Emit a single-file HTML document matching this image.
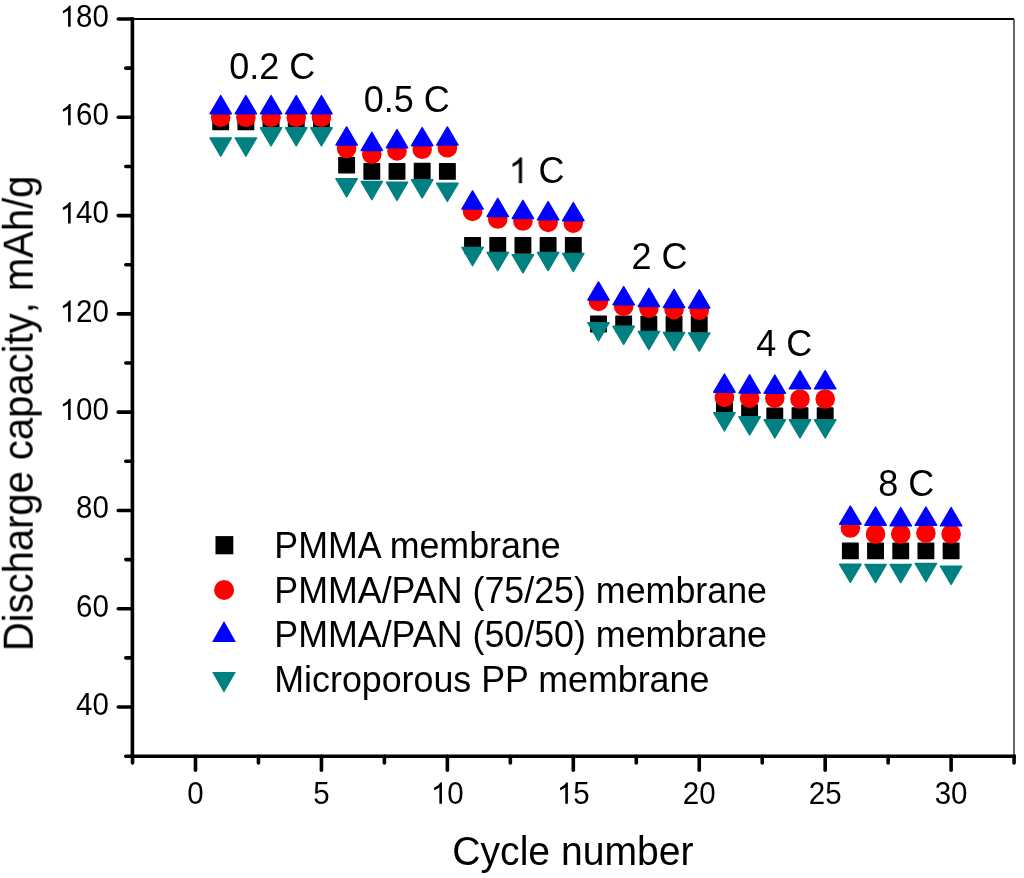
<!DOCTYPE html>
<html><head><meta charset="utf-8"><style>
html,body{margin:0;padding:0;background:#fff;}
body{width:1024px;height:878px;overflow:hidden;}
svg{display:block;}
text{font-family:"Liberation Sans",sans-serif;fill:#000;font-kerning:none;}
.leg text{font-kerning:normal;}
</style></head><body>
<svg width="1024" height="878" viewBox="0 0 1024 878">
<defs><filter id="g" x="0" y="0" width="1" height="1" color-interpolation-filters="sRGB"><feColorMatrix type="saturate" values="0"/></filter></defs>
<rect width="1024" height="878" fill="#fff"/>
<line x1="132.4" y1="19" x2="1014" y2="19" stroke="#000" stroke-width="2"/>
<line x1="1014" y1="19" x2="1014" y2="756.2" stroke="#555" stroke-width="1.8"/>
<g stroke="#000" stroke-width="3.6" stroke-linecap="round">
<line x1="132.4" y1="19" x2="132.4" y2="756.2" stroke-linecap="square"/>
<line x1="132.4" y1="756.2" x2="1014" y2="756.2" stroke-linecap="square"/>
<line x1="125.8" y1="756.2" x2="132.4" y2="756.2"/>
<line x1="118.3" y1="707.05" x2="132.4" y2="707.05"/>
<line x1="125.8" y1="657.91" x2="132.4" y2="657.91"/>
<line x1="118.3" y1="608.76" x2="132.4" y2="608.76"/>
<line x1="125.8" y1="559.61" x2="132.4" y2="559.61"/>
<line x1="118.3" y1="510.47" x2="132.4" y2="510.47"/>
<line x1="125.8" y1="461.32" x2="132.4" y2="461.32"/>
<line x1="118.3" y1="412.17" x2="132.4" y2="412.17"/>
<line x1="125.8" y1="363.03" x2="132.4" y2="363.03"/>
<line x1="118.3" y1="313.88" x2="132.4" y2="313.88"/>
<line x1="125.8" y1="264.73" x2="132.4" y2="264.73"/>
<line x1="118.3" y1="215.59" x2="132.4" y2="215.59"/>
<line x1="125.8" y1="166.44" x2="132.4" y2="166.44"/>
<line x1="118.3" y1="117.29" x2="132.4" y2="117.29"/>
<line x1="125.8" y1="68.15" x2="132.4" y2="68.15"/>
<line x1="118.3" y1="19" x2="132.4" y2="19"/>
<line x1="132.53" y1="756.2" x2="132.53" y2="763"/>
<line x1="195.5" y1="756.2" x2="195.5" y2="770.2"/>
<line x1="258.47" y1="756.2" x2="258.47" y2="763"/>
<line x1="321.44" y1="756.2" x2="321.44" y2="770.2"/>
<line x1="384.4" y1="756.2" x2="384.4" y2="763"/>
<line x1="447.37" y1="756.2" x2="447.37" y2="770.2"/>
<line x1="510.34" y1="756.2" x2="510.34" y2="763"/>
<line x1="573.31" y1="756.2" x2="573.31" y2="770.2"/>
<line x1="636.27" y1="756.2" x2="636.27" y2="763"/>
<line x1="699.24" y1="756.2" x2="699.24" y2="770.2"/>
<line x1="762.21" y1="756.2" x2="762.21" y2="763"/>
<line x1="825.17" y1="756.2" x2="825.17" y2="770.2"/>
<line x1="888.14" y1="756.2" x2="888.14" y2="763"/>
<line x1="951.11" y1="756.2" x2="951.11" y2="770.2"/>
<line x1="1014.08" y1="756.2" x2="1014.08" y2="763"/>
</g>
<g fill="#000" stroke="#000" stroke-width="1.4" stroke-linejoin="round"><rect x="212.94" y="114.1" width="15.5" height="15.5"/><rect x="238.12" y="114.1" width="15.5" height="15.5"/><rect x="263.31" y="114.1" width="15.5" height="15.5"/><rect x="288.5" y="114.1" width="15.5" height="15.5"/><rect x="313.69" y="114.1" width="15.5" height="15.5"/><rect x="338.87" y="157.4" width="15.5" height="15.5"/><rect x="364.06" y="163.65" width="15.5" height="15.5"/><rect x="389.25" y="163.65" width="15.5" height="15.5"/><rect x="414.43" y="163.35" width="15.5" height="15.5"/><rect x="439.62" y="163.65" width="15.5" height="15.5"/><rect x="464.81" y="237.6" width="15.5" height="15.5"/><rect x="489.99" y="237.6" width="15.5" height="15.5"/><rect x="515.18" y="237.6" width="15.5" height="15.5"/><rect x="540.37" y="237.6" width="15.5" height="15.5"/><rect x="565.56" y="237.6" width="15.5" height="15.5"/><rect x="590.74" y="316.25" width="15.5" height="15.5"/><rect x="615.93" y="316.25" width="15.5" height="15.5"/><rect x="641.12" y="316.45" width="15.5" height="15.5"/><rect x="666.3" y="316.45" width="15.5" height="15.5"/><rect x="691.49" y="316.45" width="15.5" height="15.5"/><rect x="716.68" y="396.75" width="15.5" height="15.5"/><rect x="741.86" y="404.95" width="15.5" height="15.5"/><rect x="767.05" y="408.15" width="15.5" height="15.5"/><rect x="792.24" y="408.05" width="15.5" height="15.5"/><rect x="817.43" y="408.05" width="15.5" height="15.5"/><rect x="842.61" y="543.15" width="15.5" height="15.5"/><rect x="867.8" y="543.15" width="15.5" height="15.5"/><rect x="892.99" y="543.15" width="15.5" height="15.5"/><rect x="918.17" y="543.15" width="15.5" height="15.5"/><rect x="943.36" y="543.15" width="15.5" height="15.5"/></g>
<g fill="#f00" stroke="#f00" stroke-width="1.4"><circle cx="220.69" cy="117.2" r="9.1"/><circle cx="245.87" cy="117.2" r="9.1"/><circle cx="271.06" cy="117.2" r="9.1"/><circle cx="296.25" cy="117.2" r="9.1"/><circle cx="321.44" cy="117.2" r="9.1"/><circle cx="346.62" cy="148.5" r="9.1"/><circle cx="371.81" cy="154.2" r="9.1"/><circle cx="397" cy="150.9" r="9.1"/><circle cx="422.18" cy="149.2" r="9.1"/><circle cx="447.37" cy="147.8" r="9.1"/><circle cx="472.56" cy="211.4" r="9.1"/><circle cx="497.74" cy="219" r="9.1"/><circle cx="522.93" cy="221" r="9.1"/><circle cx="548.12" cy="222.4" r="9.1"/><circle cx="573.31" cy="223.1" r="9.1"/><circle cx="598.49" cy="301.4" r="9.1"/><circle cx="623.68" cy="306.2" r="9.1"/><circle cx="648.87" cy="308.2" r="9.1"/><circle cx="674.05" cy="309.6" r="9.1"/><circle cx="699.24" cy="310.3" r="9.1"/><circle cx="724.43" cy="397.4" r="9.1"/><circle cx="749.61" cy="398.1" r="9.1"/><circle cx="774.8" cy="398.1" r="9.1"/><circle cx="799.99" cy="399" r="9.1"/><circle cx="825.18" cy="399" r="9.1"/><circle cx="850.36" cy="528" r="9.1"/><circle cx="875.55" cy="534" r="9.1"/><circle cx="900.74" cy="534" r="9.1"/><circle cx="925.92" cy="533.1" r="9.1"/><circle cx="951.11" cy="534" r="9.1"/></g>
<g fill="#00f" stroke="#00f" stroke-width="1.4" stroke-linejoin="round"><path d="M220.69 95.6L231.39 113.8L209.99 113.8Z"/><path d="M245.87 95.6L256.57 113.8L235.17 113.8Z"/><path d="M271.06 95.6L281.76 113.8L260.36 113.8Z"/><path d="M296.25 95.6L306.95 113.8L285.55 113.8Z"/><path d="M321.44 95.6L332.13 113.8L310.74 113.8Z"/><path d="M346.62 126.9L357.32 145.1L335.92 145.1Z"/><path d="M371.81 132.3L382.51 150.5L361.11 150.5Z"/><path d="M397 129.6L407.7 147.8L386.3 147.8Z"/><path d="M422.18 127.5L432.88 145.7L411.48 145.7Z"/><path d="M447.37 126.9L458.07 145.1L436.67 145.1Z"/><path d="M472.56 190.9L483.26 209.1L461.86 209.1Z"/><path d="M497.74 198.3L508.44 216.5L487.04 216.5Z"/><path d="M522.93 200.3L533.63 218.5L512.23 218.5Z"/><path d="M548.12 201.7L558.82 219.9L537.42 219.9Z"/><path d="M573.31 202.5L584.01 220.7L562.61 220.7Z"/><path d="M598.49 281.9L609.19 300.1L587.79 300.1Z"/><path d="M623.68 286.6L634.38 304.8L612.98 304.8Z"/><path d="M648.87 288.3L659.57 306.5L638.17 306.5Z"/><path d="M674.05 289.4L684.75 307.6L663.35 307.6Z"/><path d="M699.24 289.8L709.94 308L688.54 308Z"/><path d="M724.43 374L735.13 392.2L713.73 392.2Z"/><path d="M749.61 374.8L760.31 393L738.91 393Z"/><path d="M774.8 375.1L785.5 393.3L764.1 393.3Z"/><path d="M799.99 370.7L810.69 388.9L789.29 388.9Z"/><path d="M825.18 370.7L835.88 388.9L814.48 388.9Z"/><path d="M850.36 506L861.06 524.2L839.66 524.2Z"/><path d="M875.55 507L886.25 525.2L864.85 525.2Z"/><path d="M900.74 507.6L911.44 525.8L890.04 525.8Z"/><path d="M925.92 507L936.62 525.2L915.22 525.2Z"/><path d="M951.11 507.6L961.81 525.8L940.41 525.8Z"/></g>
<g fill="#008080" stroke="#008080" stroke-width="1.4" stroke-linejoin="round"><path d="M209.99 138L231.39 138L220.69 156.2Z"/><path d="M235.17 138L256.57 138L245.87 156.2Z"/><path d="M260.36 127.8L281.76 127.8L271.06 146Z"/><path d="M285.55 127.8L306.95 127.8L296.25 146Z"/><path d="M310.74 127.8L332.13 127.8L321.44 146Z"/><path d="M335.92 178.7L357.32 178.7L346.62 196.9Z"/><path d="M361.11 181.5L382.51 181.5L371.81 199.7Z"/><path d="M386.3 182.2L407.7 182.2L397 200.4Z"/><path d="M411.48 179.8L432.88 179.8L422.18 198Z"/><path d="M436.67 183.3L458.07 183.3L447.37 201.5Z"/><path d="M461.86 247.5L483.26 247.5L472.56 265.7Z"/><path d="M487.04 252.4L508.44 252.4L497.74 270.6Z"/><path d="M512.23 254.7L533.63 254.7L522.93 272.9Z"/><path d="M537.42 252.4L558.82 252.4L548.12 270.6Z"/><path d="M562.61 253.4L584.01 253.4L573.31 271.6Z"/><path d="M587.79 322.6L609.19 322.6L598.49 340.8Z"/><path d="M612.98 326.3L634.38 326.3L623.68 344.5Z"/><path d="M638.17 331.5L659.57 331.5L648.87 349.7Z"/><path d="M663.35 332.4L684.75 332.4L674.05 350.6Z"/><path d="M688.54 332.9L709.94 332.9L699.24 351.1Z"/><path d="M713.73 412.7L735.13 412.7L724.43 430.9Z"/><path d="M738.91 416.8L760.31 416.8L749.61 435Z"/><path d="M764.1 419.8L785.5 419.8L774.8 438Z"/><path d="M789.29 419.8L810.69 419.8L799.99 438Z"/><path d="M814.48 419.8L835.88 419.8L825.18 438Z"/><path d="M839.66 564.3L861.06 564.3L850.36 582.5Z"/><path d="M864.85 564.5L886.25 564.5L875.55 582.7Z"/><path d="M890.04 564.5L911.44 564.5L900.74 582.7Z"/><path d="M915.22 563.4L936.62 563.4L925.92 581.6Z"/><path d="M940.41 566.1L961.81 566.1L951.11 584.3Z"/></g>
<rect x="215.5" y="536.1" width="17.8" height="18.2" fill="#000"/>
<circle cx="224.1" cy="590" r="10" fill="#f00"/>
<path d="M224 621.1L235.9 641.9L212.1 641.9Z" fill="#00f"/>
<path d="M212.1 671.9L235.9 671.9L224 692.7Z" fill="#008080"/>
<g filter="url(#g)">
<text transform="translate(76.09,714.9) scale(1,1.04)" font-size="29.5">40</text>
<text transform="translate(76.09,616.61) scale(1,1.04)" font-size="29.5">60</text>
<text transform="translate(76.09,518.32) scale(1,1.04)" font-size="29.5">80</text>
<text transform="translate(59.68,420.02) scale(1,1.04)" font-size="29.5"> 00</text>
<text transform="translate(59.68,321.73) scale(1,1.04)" font-size="29.5"> 20</text>
<text transform="translate(59.68,223.44) scale(1,1.04)" font-size="29.5"> 40</text>
<text transform="translate(59.68,125.14) scale(1,1.04)" font-size="29.5"> 60</text>
<text transform="translate(59.68,26.85) scale(1,1.04)" font-size="29.5"> 80</text>
<text transform="translate(187.3,803.7) scale(1,1.04)" font-size="29.5">0</text>
<text transform="translate(313.23,803.7) scale(1,1.04)" font-size="29.5">5</text>
<text transform="translate(430.96,803.7) scale(1,1.04)" font-size="29.5"> 0</text>
<text transform="translate(556.9,803.7) scale(1,1.04)" font-size="29.5"> 5</text>
<text transform="translate(682.83,803.7) scale(1,1.04)" font-size="29.5">20</text>
<text transform="translate(808.77,803.7) scale(1,1.04)" font-size="29.5">25</text>
<text transform="translate(934.7,803.7) scale(1,1.04)" font-size="29.5">30</text>
<text transform="translate(229.3,79.2) scale(1,1.04)" font-size="36">0.2 C</text>
<text transform="translate(363.7,112.3) scale(1,1.04)" font-size="36">0.5 C</text>
<text transform="translate(508.6,183.2) scale(1,1.04)" font-size="36">  C</text>
<text transform="translate(631.5,268.7) scale(1,1.04)" font-size="36">2 C</text>
<text transform="translate(756.3,355.9) scale(1,1.04)" font-size="36">4 C</text>
<text transform="translate(878.2,495.7) scale(1,1.04)" font-size="36">8 C</text>
<text transform="translate(572.9,864.8) scale(1,1.04)" font-size="39.1" text-anchor="middle">Cycle number</text>
<text transform="translate(33.2,413.4) rotate(-90) scale(1,1.04)" font-size="40" text-anchor="middle">Discharge capacity, mAh/g</text>
<g class="leg" font-size="35.8">
<text transform="translate(274.3,557.7) scale(1,1.04)">PMMA membrane</text>
<text transform="translate(274.3,602.5) scale(1,1.04)">PMMA/PAN (75/25) membrane</text>
<text transform="translate(274.3,647) scale(1,1.04)">PMMA/PAN (50/50) membrane</text>
<text transform="translate(274.3,691.5) scale(1,1.04)">Microporous PP membrane</text>
</g>
</g>
<g fill="#000">
<path transform="translate(59.68,420.02) scale(0.014404,-0.014404)" d="M763 0L583 0L583 1147Q518 1085 412.5 1023Q307 961 223 930L223 1104Q374 1175 486.5 1275.5Q599 1376 647 1472L763 1472Z"/>
<path transform="translate(59.68,321.73) scale(0.014404,-0.014404)" d="M763 0L583 0L583 1147Q518 1085 412.5 1023Q307 961 223 930L223 1104Q374 1175 486.5 1275.5Q599 1376 647 1472L763 1472Z"/>
<path transform="translate(59.68,223.44) scale(0.014404,-0.014404)" d="M763 0L583 0L583 1147Q518 1085 412.5 1023Q307 961 223 930L223 1104Q374 1175 486.5 1275.5Q599 1376 647 1472L763 1472Z"/>
<path transform="translate(59.68,125.14) scale(0.014404,-0.014404)" d="M763 0L583 0L583 1147Q518 1085 412.5 1023Q307 961 223 930L223 1104Q374 1175 486.5 1275.5Q599 1376 647 1472L763 1472Z"/>
<path transform="translate(59.68,26.85) scale(0.014404,-0.014404)" d="M763 0L583 0L583 1147Q518 1085 412.5 1023Q307 961 223 930L223 1104Q374 1175 486.5 1275.5Q599 1376 647 1472L763 1472Z"/>
<path transform="translate(430.96,803.7) scale(0.014404,-0.014404)" d="M763 0L583 0L583 1147Q518 1085 412.5 1023Q307 961 223 930L223 1104Q374 1175 486.5 1275.5Q599 1376 647 1472L763 1472Z"/>
<path transform="translate(556.9,803.7) scale(0.014404,-0.014404)" d="M763 0L583 0L583 1147Q518 1085 412.5 1023Q307 961 223 930L223 1104Q374 1175 486.5 1275.5Q599 1376 647 1472L763 1472Z"/>
<path transform="translate(508.6,183.2) scale(0.017578,-0.017578)" d="M763 0L583 0L583 1147Q518 1085 412.5 1023Q307 961 223 930L223 1104Q374 1175 486.5 1275.5Q599 1376 647 1472L763 1472Z"/>
</g>
</svg>
</body></html>
